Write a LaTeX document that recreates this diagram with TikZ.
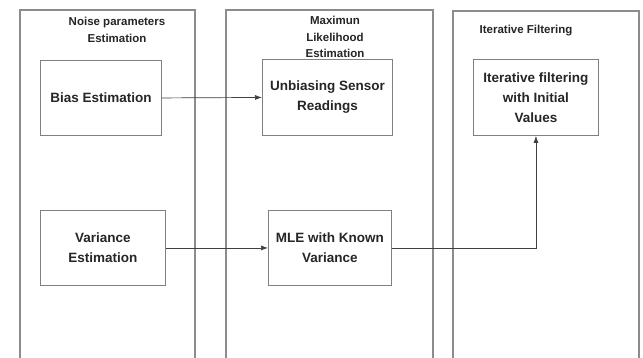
\documentclass[tikz,border=0pt]{standalone}
\usepackage{fontspec}
\setmainfont{Liberation Sans}
\usetikzlibrary{arrows.meta,calc}
\begin{document}
\begin{tikzpicture}[x=1pt,y=-1pt,
  panel/.style={draw=black!45,line width=1.1pt},
  paneltitle/.style={font=\bfseries\fontsize{11.5}{16.5}\selectfont,text=black!85,align=center,inner sep=0pt},
  stage/.style={draw=black!50,line width=0.9pt,align=center,text=black!85,
    font=\bfseries\fontsize{13.5}{20}\selectfont,inner sep=0pt,anchor=north west},
  flow/.style={draw=black!75,line width=0.7pt,-{Latex[length=7pt,width=5pt]}}]
\useasboundingbox (0,0) rectangle (643,358);
\fill[white] (0,0) rectangle (643,358);

% three swim-lane panels, open at the bottom
\draw[panel] (20,358) -- (20,10) -- (195,10) -- (195,358);
\draw[panel] (226,358) -- (226,10) -- (433,10) -- (433,358);
\draw[panel] (453,358) -- (453,11) -- (639,11) -- (639,358);

% panel titles
\node[paneltitle] (t1) at (117,30) {Noise parameters\\Estimation};
\node[paneltitle] (t2) at (335,37) {Maximun\\Likelihood\\Estimation};
\node[paneltitle] (t3) at (526,31) {Iterative Filtering};

% processing stages
\node[stage,minimum width=121pt,minimum height=75pt] (bias) at (40,60) {Bias Estimation};
\node[stage,minimum width=130pt,minimum height=76pt] (unb) at (262,59) {Unbiasing Sensor\\Readings};
\node[stage,minimum width=125pt,minimum height=76pt] (iter) at (473,59) {Iterative filtering\\with Initial\\Values};
\node[stage,minimum width=125pt,minimum height=75pt] (var) at (40,210) {Variance\\Estimation};
\node[stage,minimum width=123pt,minimum height=75pt] (mle) at (268,210) {MLE with Known\\Variance};

% connectors
\draw[flow] (bias.east) -- (unb.west);
\draw[flow] (var.east) -- (mle.west);
\draw[flow] (mle.east) -| (iter.south);
\end{tikzpicture}
\end{document}
